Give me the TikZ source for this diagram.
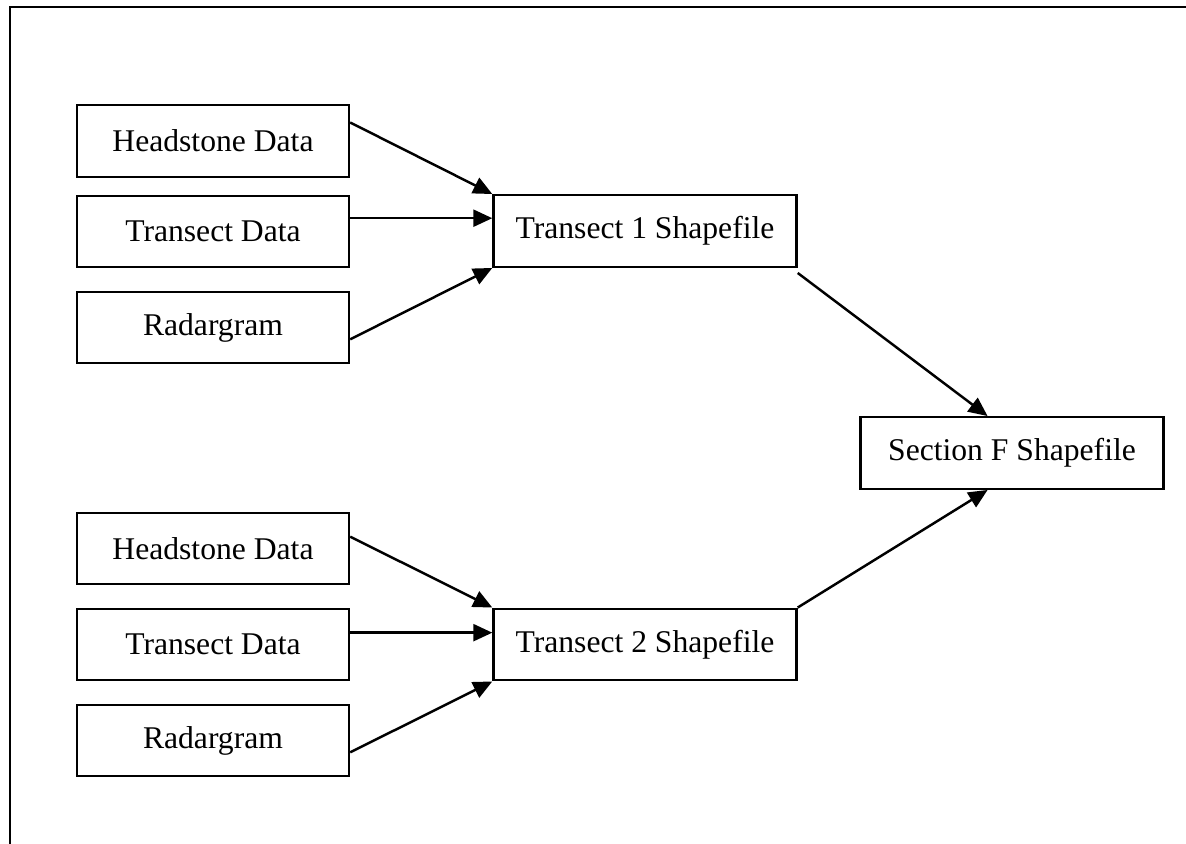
\documentclass[tikz,border=0pt]{standalone}
\usepackage{fontspec}
\setmainfont{Liberation Serif}
\usetikzlibrary{arrows.meta,calc,positioning}

\tikzset{
	box/.style={draw, line width=1.4pt, inner sep=0pt, minimum height=1.43cm, font=\fontsize{18}{21}\selectfont},
	small/.style={box, minimum width=5.44cm},
	wide/.style={box, minimum width=6.06cm},
	arr/.style={line width=1.4pt, -{Triangle[length=0.38cm, width=0.34cm]}}
}

\begin{document}
\begin{tikzpicture}[x=0.02cm, y=-0.02cm]
		\useasboundingbox (0,0) rectangle (1186,844);
		\draw[line width=1.4pt] (10,844) -- (10,7) -- (1186,7);
		\node[small] (hd1) at (213,141) {Headstone Data};
		\node[small] (td1) at (213,231.5) {Transect Data};
		\node[small] (rg1) at (213,327.5) {Radargram};
		\node[wide] (ts1) at (645,231) {Transect 1 Shapefile};
		\node[wide] (sec) at (1012,453) {Section F Shapefile};
		\node[small] (hd2) at (213,548.5) {Headstone Data};
		\node[small] (td2) at (213,644.5) {Transect Data};
		\node[small] (rg2) at (213,740.5) {Radargram};
		\node[wide] (ts2) at (645,644.5) {Transect 2 Shapefile};
		\draw[arr] ($(hd1.north east)!0.25!(hd1.south east)$) -- (ts1.north west);
		\draw[arr] ($(td1.north east)!0.32!(td1.south east)$) coordinate (a1) -- (ts1.west |- a1);
		\draw[arr] ($(rg1.north east)!0.66!(rg1.south east)$) -- (ts1.south west);
		\draw[arr] ($(hd2.north east)!0.34!(hd2.south east)$) -- (ts2.north west);
		\draw[arr] ($(td2.north east)!0.34!(td2.south east)$) coordinate (a2) -- (ts2.west |- a2);
		\draw[arr] ($(rg2.north east)!0.66!(rg2.south east)$) -- (ts2.south west);
		\draw[arr] ($(ts1.south east)+(0,5)$) -- ($(sec.north west)!0.42!(sec.north east)$);
		\draw[arr] (ts2.north east) -- ($(sec.south west)!0.42!(sec.south east)$);
	\end{tikzpicture}
\end{document}
